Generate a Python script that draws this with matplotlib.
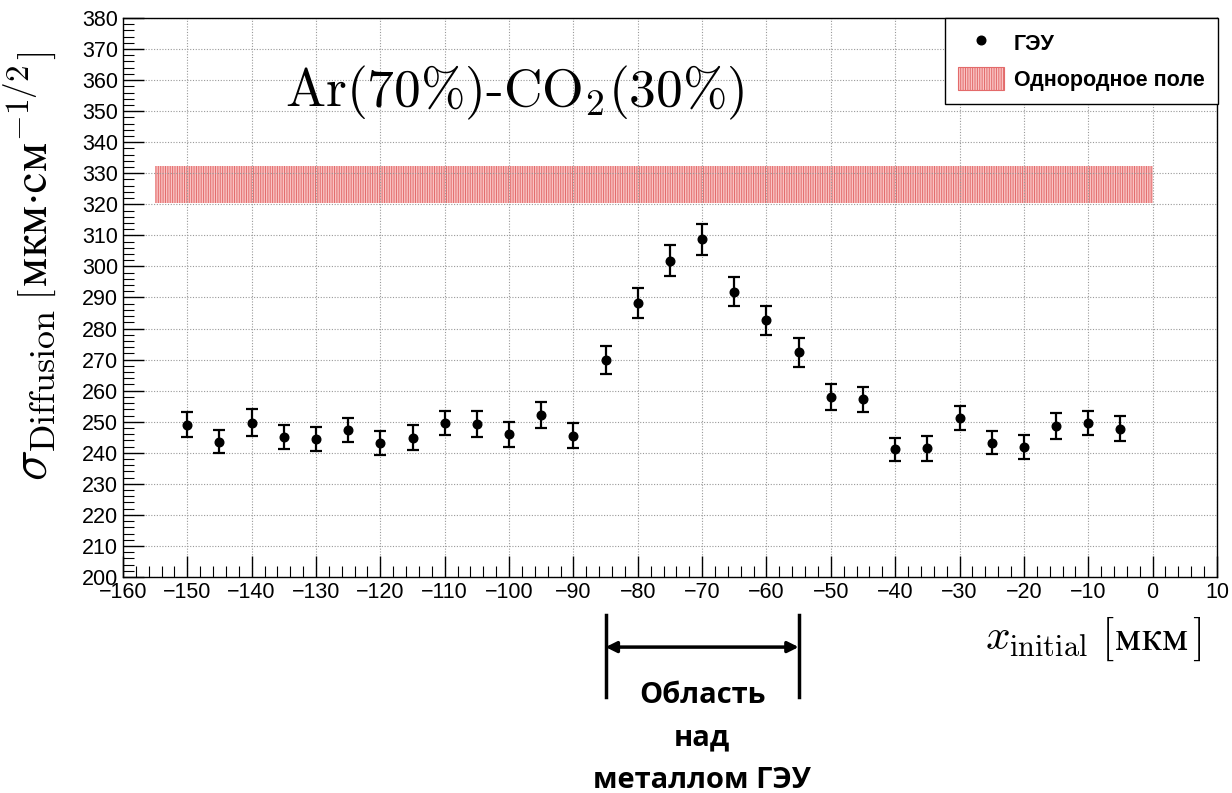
import matplotlib
matplotlib.use('agg')
import matplotlib.pyplot as plt
import matplotlib.transforms as mtransforms
from matplotlib.lines import Line2D
from matplotlib.patches import Patch
from matplotlib.ticker import MultipleLocator

plt.rcParams['mathtext.fontset'] = 'cm'
plt.rcParams['hatch.linewidth'] = 0.7

### DATA ###

x_pos = [-150, -145, -140, -135, -130, -125, -120, -115, -110, -105,
         -100, -95, -90, -85, -80, -75, -70, -65, -60, -55,
         -50, -45, -40, -35, -30, -25, -20, -15, -10, -5]
sigma = [249.1, 243.6, 249.7, 245.1, 244.4, 247.3, 243.1, 244.8, 249.7, 249.2,
         245.9, 252.1, 245.5, 269.9, 288.2, 301.8, 308.7, 291.8, 282.6, 272.4,
         258.1, 257.2, 241.1, 241.4, 251.2, 243.3, 241.9, 248.6, 249.6, 247.8]
sigma_err = [4.0, 3.7, 4.3, 3.9, 3.9, 3.9, 3.8, 4.0, 3.9, 4.2,
             4.0, 4.1, 4.0, 4.5, 4.7, 5.0, 4.9, 4.7, 4.8, 4.7,
             4.2, 4.1, 3.8, 4.0, 4.0, 3.6, 3.8, 4.1, 4.0, 3.9]

band_x = [-155, 0]
band_low = 320.5
band_high = 332.5

metal_region = [-85, -55]

W, H = 1232, 793


def px(x, y):
    # pixel position (from top-left) -> figure fraction
    return x / W, 1 - y / H


### PLOT ###

fig = plt.figure(figsize=(W / 100, H / 100), dpi=100)
ax = fig.add_axes([0.0998, 0.2724, 0.888, 0.7049])

ax.fill_between(band_x, band_low, band_high, facecolor='#f9c4c4',
                edgecolor='#e36a6a', hatch='|||||||', linewidth=0, zorder=1)

ax.errorbar(x_pos, sigma, yerr=sigma_err, fmt='o', color='black',
            markersize=6.2, elinewidth=1.6, capsize=4, capthick=1.6, zorder=3)

ax.set_xlim(-160, 10)
ax.set_ylim(200, 380)
ax.xaxis.set_major_locator(MultipleLocator(10))
ax.xaxis.set_minor_locator(MultipleLocator(2))
ax.yaxis.set_major_locator(MultipleLocator(10))
ax.yaxis.set_minor_locator(MultipleLocator(2))
ax.tick_params(which='both', direction='in', top=False, right=False,
               labelsize=15.5)
ax.tick_params(which='major', length=15, width=1)
ax.tick_params(which='minor', length=8, width=0.8)
for lab in ax.get_xticklabels() + ax.get_yticklabels():
    lab.set_fontfamily('Liberation Sans')
ax.grid(True, which='major', linestyle=(0, (1, 1.5)), color='#999999',
        linewidth=0.8)
for s in ax.spines.values():
    s.set_linewidth(1)

# title inside the frame
fig.text(*px(285, 106), r'$\mathrm{Ar(70\%)\text{-}CO_2(30\%)}$',
         fontsize=38.5, ha='left', va='baseline')

# y label, built piece by piece along the vertical
ykw = dict(rotation=90, rotation_mode='anchor', ha='left', va='baseline')
fig.text(*px(47, 481), r'$\sigma_{\mathrm{Diffusion}}$', fontsize=37, **ykw)
fig.text(*px(47, 300), r'$[$', fontsize=27, **ykw)
fig.text(*px(47, 287), r'$\mathrm{мкм·см}^{-1/2}$', fontsize=34, **ykw)
fig.text(*px(47, 60), r'$]$', fontsize=27, **ykw)

# x label
fig.text(*px(985, 650), r'$x_{\mathrm{initial}}$', fontsize=31,
         ha='left', va='baseline')
fig.text(*px(1101, 650), r'$[$', fontsize=32, ha='left', va='baseline')
fig.text(*px(1114, 650), r'$\mathrm{мкм}$', fontsize=30.5,
         ha='left', va='baseline')
fig.text(*px(1192, 650), r'$]$', fontsize=32, ha='left', va='baseline')

# legend
handles = [Line2D([], [], marker='o', color='black', linestyle='none',
                  markersize=6.2),
           Patch(facecolor='#f9c4c4', edgecolor='#e36a6a', hatch='|||||||',
                 linewidth=0.8)]
leg = fig.legend(handles, ['ГЭУ', 'Однородное поле'], loc='upper left',
                 bbox_to_anchor=px(945, 18), borderaxespad=0,
                 fancybox=False, edgecolor='black', framealpha=1,
                 prop={'family': 'Liberation Sans', 'weight': 'bold',
                       'size': 15.5},
                 handlelength=2.15, handleheight=1.3, labelspacing=0.55,
                 borderpad=0.6, handletextpad=0.45)
leg.get_frame().set_linewidth(1)

# region above metal of the GEM
trans = mtransforms.blended_transform_factory(ax.transData, fig.transFigure)
for xv in metal_region:
    ax.add_line(Line2D([xv, xv], [0.121, 0.225], color='black', linewidth=2.5,
                       transform=trans, clip_on=False))
ax.annotate('', xy=(metal_region[0], 0.184), xytext=(metal_region[1], 0.184),
            xycoords=trans, textcoords=trans,
            arrowprops=dict(arrowstyle='<|-|>', color='black', lw=2.5,
                            mutation_scale=16, shrinkA=0, shrinkB=0),
            annotation_clip=False)
ax.text(sum(metal_region) / 2, 0.069, 'Область\nнад\nметаллом ГЭУ',
        transform=trans, ha='center', va='center', fontsize=21,
        fontfamily='Open Sans', fontweight='bold', linespacing=1.62)

fig.savefig('out.png', dpi=100)
